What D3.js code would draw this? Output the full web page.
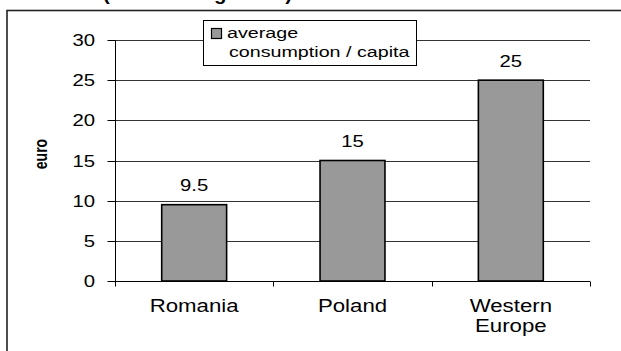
<!DOCTYPE html>
<html>
<head>
<meta charset="utf-8">
<script src="https://cdn.jsdelivr.net/npm/d3@7"></script>
<style>
  html, body { margin: 0; padding: 0; background: #fff; }
  svg { display: block; }
  text { font-family: Arial, "Liberation Sans", Helvetica, sans-serif; fill: #000; }
</style>
</head>
<body>
<svg id="chart" width="621" height="351"></svg>
<script>
// Average consumption per capita, in euro
const categories = [["Romania"], ["Poland"], ["Western", "Europe"]];
const values = [9.5, 15, 25];
const valueLabels = ["9.5", "15", "25"];
const yTicks = [0, 5, 10, 15, 20, 25, 30];
const seriesName = ["average", "consumption / capita"];
const yTitle = "euro";
const headerText = "(2005 average data)";

const W = 621, H = 351;
const STRETCH = 1.27; // text is drawn horizontally widened
const margin = { left: 115, right: 31, top: 40, bottom: 70 };

const svg = d3.select("#chart");

// outer frame (runs off the right and bottom edges)
svg.append("rect")
  .attr("x", 7).attr("y", 10.5)
  .attr("width", 700).attr("height", 400)
  .attr("fill", "none").attr("stroke", "#222").attr("stroke-width", 1.6);

// header line above the frame; only its descenders fall inside the page
svg.append("g")
  .attr("transform", `translate(103,0)`)
  .append("text")
  .attr("font-size", 18).attr("font-weight", "bold")
  .attr("font-family", "'Liberation Serif', 'Times New Roman', serif")
  .attr("textLength", 189).attr("lengthAdjust", "spacingAndGlyphs")
  .text(headerText);

const x = d3.scaleBand()
  .domain(categories.map(d => d.join(" ")))
  .range([margin.left, W - margin.right])
  .paddingInner(0.59)
  .paddingOuter(0.295);

const y = d3.scaleLinear()
  .domain([0, 30])
  .range([H - margin.bottom, margin.top]);

function stretched(parent, px, py, str, size, anchor, weight) {
  const g = parent.append("g").attr("transform", `translate(${px},${py}) scale(${STRETCH},1)`);
  return g.append("text")
    .attr("text-anchor", anchor || "middle")
    .attr("font-size", size)
    .attr("font-weight", weight || "normal")
    .text(str);
}

// horizontal gridlines
svg.append("g").selectAll("line")
  .data(yTicks.filter(d => d > 0))
  .join("line")
  .attr("x1", margin.left).attr("x2", W - margin.right)
  .attr("y1", d => Math.round(y(d)) + 0.5).attr("y2", d => Math.round(y(d)) + 0.5)
  .attr("stroke", "#333").attr("stroke-width", 1);

// y axis
const yAxis = svg.append("g")
  .attr("transform", `translate(${margin.left + 0.5},0.5)`)
  .call(d3.axisLeft(y).tickValues(yTicks).tickSize(8).tickFormat(""));
yAxis.select(".domain").attr("stroke", "#000").attr("d", `M0,${y(30)}V${y(0)}`);
yAxis.selectAll(".tick line").attr("stroke", "#000");
yAxis.selectAll(".tick").each(function(d) {
  d3.select(this).attr("transform", `translate(0,${Math.round(y(d))})`);
});

yTicks.forEach(t => {
  stretched(svg, 95, Math.round(y(t)) + 6, String(t), 16, "end");
});

// y axis title
svg.append("g")
  .attr("transform", `translate(47,154) scale(${STRETCH},1) rotate(-90)`)
  .append("text")
  .attr("text-anchor", "middle")
  .attr("font-size", 14).attr("font-weight", "bold")
  .text(yTitle);

// bars
const bars = categories.map((c, i) => ({ key: c.join(" "), value: values[i], label: valueLabels[i], lines: c }));

svg.append("g").selectAll("rect")
  .data(bars)
  .join("rect")
  .attr("x", d => x(d.key))
  .attr("y", d => y(d.value))
  .attr("width", x.bandwidth())
  .attr("height", d => y(0) - y(d.value))
  .attr("fill", "#999999")
  .attr("stroke", "#000").attr("stroke-width", 1.6);

// x axis
const xAxisY = Math.round(y(0)) + 0.5;
svg.append("line")
  .attr("x1", margin.left).attr("x2", W - margin.right)
  .attr("y1", xAxisY).attr("y2", xAxisY)
  .attr("stroke", "#000");
const bounds = [margin.left].concat(bars.map(d => x(d.key) + x.bandwidth() + x.step() * x.paddingInner() / 2));
bounds[bounds.length - 1] = W - margin.right;
svg.append("g").selectAll("line")
  .data(bounds)
  .join("line")
  .attr("x1", d => Math.round(d) + 0.5).attr("x2", d => Math.round(d) + 0.5)
  .attr("y1", xAxisY).attr("y2", xAxisY + 5)
  .attr("stroke", "#000");

// value labels
bars.forEach(d => {
  stretched(svg, x(d.key) + x.bandwidth() / 2, y(d.value) - 13.5, d.label, 16);
});

// category labels
bars.forEach(d => {
  d.lines.forEach((ln, j) => {
    stretched(svg, x(d.key) + x.bandwidth() / 2, 312 + j * 20, ln, 17.5);
  });
});

// legend
const lg = svg.append("g");
lg.append("rect")
  .attr("x", 203.5).attr("y", 20.5).attr("width", 213).attr("height", 45)
  .attr("fill", "#fff").attr("stroke", "#000").attr("stroke-width", 1);
lg.append("rect")
  .attr("x", 211.5).attr("y", 28.5).attr("width", 10).attr("height", 10)
  .attr("fill", "#999999").attr("stroke", "#000").attr("stroke-width", 1.2);
stretched(lg, 227, 38, seriesName[0], 15.5, "start");
stretched(lg, 229, 57, seriesName[1], 15.5, "start");
</script>
</body>
</html>
